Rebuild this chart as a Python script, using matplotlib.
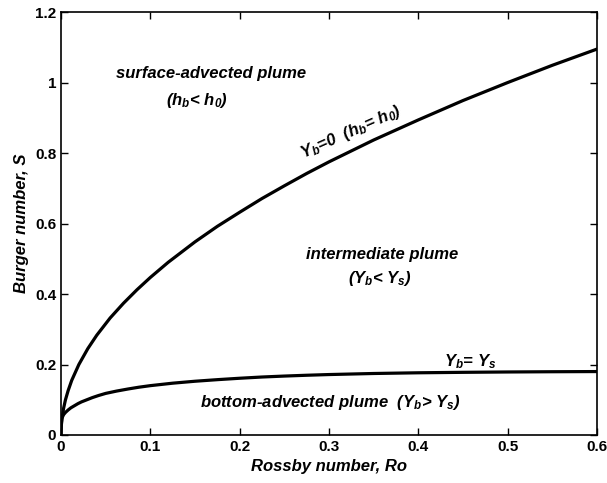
import numpy as np
import matplotlib
matplotlib.use("Agg")
import matplotlib.pyplot as plt

# valores
ro_upper = [0.0, 0.0001, 0.0003, 0.001, 0.003, 0.005, 0.008, 0.012, 0.02, 0.03,
            0.04, 0.055, 0.07, 0.085, 0.1, 0.12, 0.15, 0.175, 0.2, 0.225,
            0.25, 0.275, 0.3, 0.35, 0.4, 0.45, 0.5, 0.55, 0.6]
s_upper = [0.0, 0.014, 0.025, 0.045, 0.077, 0.1, 0.126, 0.155, 0.2, 0.245,
           0.283, 0.332, 0.374, 0.412, 0.447, 0.49, 0.548, 0.592, 0.632, 0.671,
           0.707, 0.742, 0.775, 0.837, 0.894, 0.949, 1.0, 1.049, 1.095]

ro_lower = [0.0, 0.0005, 0.001, 0.002, 0.003, 0.005, 0.008, 0.011, 0.015, 0.019,
            0.023, 0.028, 0.035, 0.042, 0.05, 0.062, 0.075, 0.087, 0.1, 0.125,
            0.15, 0.175, 0.2, 0.225, 0.25, 0.275, 0.3, 0.35, 0.4, 0.45,
            0.5, 0.55, 0.6]
s_lower = [0.0, 0.035, 0.047, 0.053, 0.058, 0.064, 0.071, 0.077, 0.083, 0.089,
           0.094, 0.099, 0.106, 0.112, 0.118, 0.1245, 0.1305, 0.1355, 0.1400, 0.1470,
           0.1525, 0.1570, 0.1610, 0.1645, 0.1672, 0.1695, 0.1715, 0.1745, 0.1765, 0.1778,
           0.1788, 0.1795, 0.180]

xticks = [0, 0.1, 0.2, 0.3, 0.4, 0.5, 0.6]
xticklabels = ['0', '0.1', '0.2', '0.3', '0.4', '0.5', '0.6']
yticks = [0, 0.2, 0.4, 0.6, 0.8, 1.0, 1.2]
yticklabels = ['0', '0.2', '0.4', '0.6', '0.8', '1', '1.2']

plt.rcParams['font.family'] = 'Liberation Sans'
plt.rcParams['mathtext.fontset'] = 'custom'
plt.rcParams['mathtext.rm'] = 'Liberation Sans:bold:italic'
plt.rcParams['mathtext.it'] = 'Liberation Sans:bold:italic'
plt.rcParams['mathtext.bf'] = 'Liberation Sans:bold:italic'

fig = plt.figure(figsize=(6.07, 4.83), dpi=100)
ax = fig.add_axes([0.1005, 0.0994, 0.883, 0.8756])

ax.plot(ro_upper, s_upper, color='k', linewidth=2.3)
ax.plot(ro_lower, s_lower, color='k', linewidth=2.3)

ax.set_xlim(0, 0.6)
ax.set_ylim(0, 1.2)
ax.set_xticks(xticks)
ax.set_xticklabels(xticklabels, fontweight='bold', fontsize=11)
ax.set_yticks(yticks)
ax.set_yticklabels(yticklabels, fontweight='bold', fontsize=11)
ax.tick_params(direction='in', top=True, right=True, length=5, width=1)
for sp in ax.spines.values():
    sp.set_linewidth(1.2)

lab = dict(fontweight='bold', style='italic', fontsize=12)
ax.set_xlabel('Rossby number, Ro', labelpad=4, **lab)
ax.set_ylabel('Burger number, S', labelpad=4, **lab)

txt = dict(fontweight='bold', style='italic', fontsize=12, ha='center', va='center')
ax.text(0.168, 1.027, 'surface-advected plume', **txt)
ax.text(0.152, 0.95, r'(h$_b$< h$_0$)', **txt)
ax.text(0.325, 0.86, r'Y$_b$=0  (h$_b$= h$_0$)', rotation=24, **txt)
ax.text(0.36, 0.513, 'intermediate plume', **txt)
ax.text(0.357, 0.445, r'(Y$_b$< Y$_s$)', **txt)
ax.text(0.458, 0.208, r'Y$_b$= Y$_s$', **txt)
ax.text(0.302, 0.091, r'bottom-advected plume  (Y$_b$> Y$_s$)', **txt)

fig.savefig('out.png', dpi=100)
